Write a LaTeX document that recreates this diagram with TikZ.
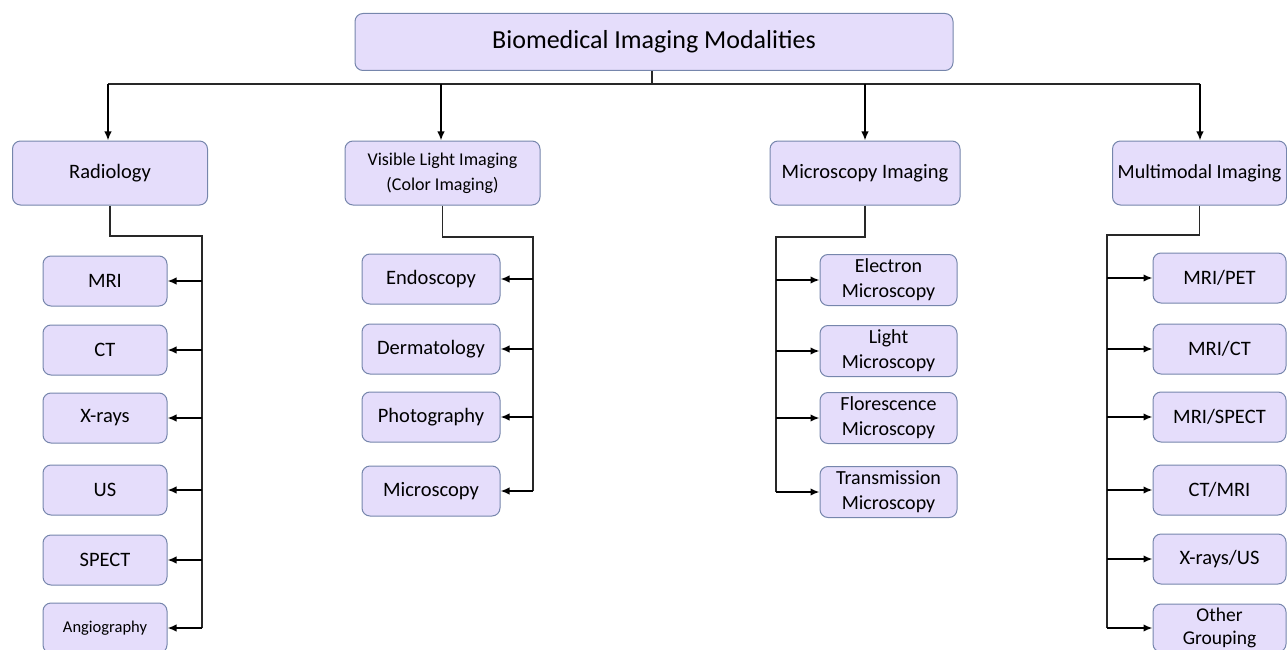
\documentclass[tikz,border=0pt]{standalone}
\usepackage{fontspec}
\setmainfont{Carlito}
\usetikzlibrary{arrows.meta}
\definecolor{boxfill}{RGB}{229,221,251}
\definecolor{boxline}{RGB}{118,134,172}
\definecolor{wire}{RGB}{40,40,40}
\tikzset{
  box/.style={draw=boxline, fill=boxfill, rounded corners=8pt, line width=1pt, align=center, inner sep=0pt},
  fs/.style={font=\fontsize{#1}{25}\selectfont},
  wireline/.style={draw=wire, line width=1.2pt},
  arr/.style={draw=black, line width=1.7pt, -{Latex[length=9pt,width=7.5pt]}}
}
\begin{document}
\begin{tikzpicture}[x=1pt,y=-1pt]
\useasboundingbox (0,0) rectangle (1287,650);
% root
\node[box, minimum width=598pt, minimum height=57pt, fs=26] (root) at (654,42) {Biomedical Imaging Modalities};
% level 1
\node[box, minimum width=195pt, minimum height=64pt, fs=20.5] (rad) at (110,173) {Radiology};
\node[box, minimum width=195pt, minimum height=64pt, font=\fontsize{18}{25}\selectfont] (vis) at (442.5,173) {Visible Light Imaging\\(Color Imaging)};
\node[box, minimum width=190pt, minimum height=64pt, fs=20.5] (mic) at (865,173) {Microscopy Imaging};
\node[box, minimum width=174pt, minimum height=64pt, fs=20] (mul) at (1199.5,173) {Multimodal Imaging};
% top connectors
\coordinate (hub) at (652,84);
\draw[wireline] (root.south -| hub) -- (hub);
\coordinate (hl) at (108,84);
\coordinate (hr) at (1200,84);
\draw[wireline] (hl) -- (hr);
\draw[arr] (hl) -- (hl |- rad.north);
\draw[arr] (441,84) coordinate (hv) -- (hv |- vis.north);
\draw[arr] (865,84) coordinate (hm) -- (hm |- mic.north);
\draw[arr] (hr) -- (hr |- mul.north);

% radiology leaves
\begin{scope}[every node/.style={box, minimum width=124pt, minimum height=50pt, fs=20.5}]
\node (mri) at (105,281) {MRI};
\node (ct) at (105,350) {CT};
\node (xr) at (105,418) {X-rays};
\node (us) at (105,490) {US};
\node (spect) at (105,560) {SPECT};
\node[font=\fontsize{16.5}{20}\selectfont] (ang) at (105,628) {Angiography};
\end{scope}
\coordinate (rbus) at (202,236);
\draw[wireline] (rad.south) |- (rbus) -- (rbus |- ang.east);
\foreach \n in {mri,ct,xr,us,spect,ang} \draw[arr] (rbus |- \n.east) -- (\n.east);

% visible leaves
\begin{scope}[every node/.style={box, minimum width=138pt, minimum height=50pt, fs=20.5}]
\node (endo) at (431,279) {Endoscopy};
\node (derm) at (431,349) {Dermatology};
\node (photo) at (431,417) {Photography};
\node (micro) at (431,491) {Microscopy};
\end{scope}
\coordinate (vbus) at (533,237);
\draw[wireline] (vis.south) |- (vbus) -- (vbus |- micro.east);
\foreach \n in {endo,derm,photo,micro} \draw[arr] (vbus |- \n.east) -- (\n.east);

% microscopy leaves
\begin{scope}[every node/.style={box, minimum width=137pt, minimum height=51pt, fs=20}]
\node (elec) at (888.5,280) {Electron\\Microscopy};
\node (light) at (888.5,351) {Light\\Microscopy};
\node (flor) at (888.5,418) {Florescence\\Microscopy};
\node (trans) at (888.5,492) {Transmission\\Microscopy};
\end{scope}
\coordinate (mbus) at (776,237);
\draw[wireline] (mic.south) |- (mbus) -- (mbus |- trans.west);
\foreach \n in {elec,light,flor,trans} \draw[arr] (mbus |- \n.west) -- (\n.west);

% multimodal leaves
\begin{scope}[every node/.style={box, minimum width=133pt, minimum height=50pt, fs=20.5}]
\node (mp) at (1219.5,278) {MRI/PET};
\node (mc) at (1219.5,349) {MRI/CT};
\node (ms) at (1219.5,417) {MRI/SPECT};
\node (cm) at (1219.5,490) {CT/MRI};
\node (xu) at (1219.5,559) {X-rays/US};
\node[font=\fontsize{19.5}{23}\selectfont, minimum height=48pt] (og) at (1219.5,628) {Other\\Grouping};
\end{scope}
\coordinate (ubus) at (1107,235);
\draw[wireline] (mul.south) |- (ubus) -- (ubus |- og.west);
\foreach \n in {mp,mc,ms,cm,xu,og} \draw[arr] (ubus |- \n.west) -- (\n.west);
\end{tikzpicture}
\end{document}
